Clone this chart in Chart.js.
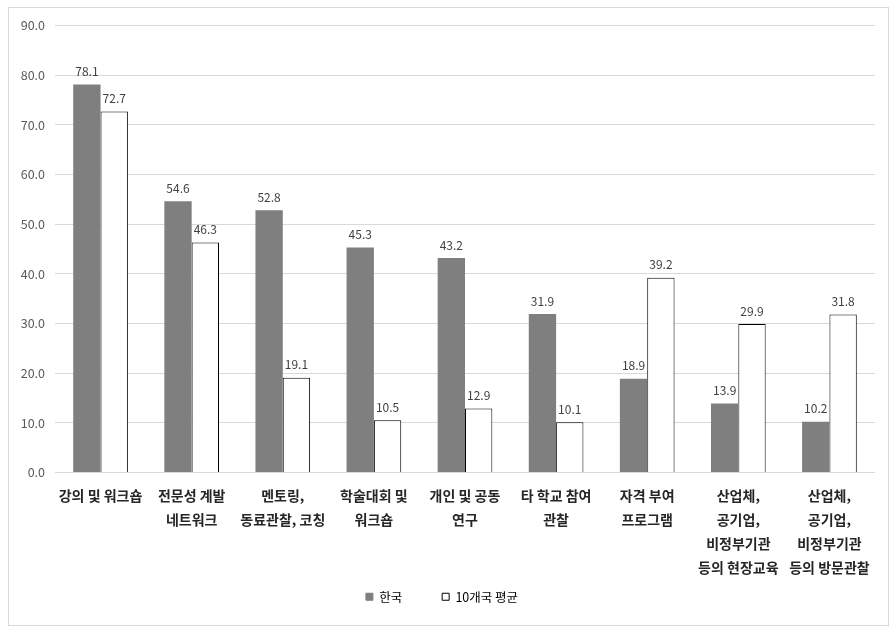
<!DOCTYPE html>
<html><head><meta charset="utf-8">
<script src="https://cdn.jsdelivr.net/npm/chart.js@4/dist/chart.umd.min.js"></script>
<style>
html,body{margin:0;padding:0;background:#fff;}
#wrap{position:absolute;left:8px;top:7px;width:881px;height:619px;box-sizing:border-box;border:1px solid #d9d9d9;}
canvas{display:block;}
</style></head>
<body>
<div id="wrap"><canvas id="c" width="879" height="617"></canvas></div>
<script>
const categories = [
  "강의 및 워크숍",
  ["전문성 계발","네트워크"],
  ["멘토링,","동료관찰, 코칭"],
  ["학술대회 및","워크숍"],
  ["개인 및 공동","연구"],
  ["타 학교 참여","관찰"],
  ["자격 부여","프로그램"],
  ["산업체,","공기업,","비정부기관","등의 현장교육"],
  ["산업체,","공기업,","비정부기관","등의 방문관찰"]
];
const korea = [78.1, 54.6, 52.8, 45.3, 43.2, 31.9, 18.9, 13.9, 10.2];
const avg10 = [72.7, 46.3, 19.1, 10.5, 12.9, 10.1, 39.2, 29.9, 31.8];
const yTicks = [0,10,20,30,40,50,60,70,80,90];

const FONT = "'Noto Sans CJK KR','Noto Sans',sans-serif";

const valueLabels = {
  id:'valueLabels',
  afterDatasetsDraw(chart){
    const ctx = chart.ctx;
    ctx.save();
    ctx.font = "12px " + FONT;
    ctx.fillStyle = '#404040';
    ctx.textAlign = 'center';
    ctx.textBaseline = 'bottom';
    chart.data.datasets.forEach((ds,i)=>{
      const meta = chart.getDatasetMeta(i);
      meta.data.forEach((el,j)=>{
        ctx.fillText(ds.data[j].toFixed(1), el.x, el.y - 7);
      });
    });
    ctx.restore();
  }
};

new Chart(document.getElementById('c'), {
  type:'bar',
  data:{
    labels: categories,
    datasets:[
      {label:'한국', data:korea, backgroundColor:'#7f7f7f', borderWidth:0,
       categoryPercentage:0.6, barPercentage:1.0},
      {label:'10개국 평균', data:avg10, backgroundColor:'#ffffff', borderColor:'#000000', borderWidth:1,
       categoryPercentage:0.6, barPercentage:1.0}
    ]
  },
  options:{
    responsive:false,
    animation:false,
    layout:{padding:{top:15,right:13,left:0,bottom:12}},
    plugins:{
      legend:{
        position:'bottom',
        labels:{
          boxWidth:7, boxHeight:7, padding:40,
          color:'#404040', font:{family:FONT, size:12.5},
          generateLabels(chart){
            return chart.data.datasets.map((ds,i)=>({
              text: ds.label,
              fillStyle: ds.backgroundColor,
              strokeStyle: i===0 ? '#7f7f7f' : '#000000',
              lineWidth: 1,
              datasetIndex: i,
              hidden:false
            }));
          }
        }
      },
      tooltip:{enabled:false}
    },
    scales:{
      x:{
        grid:{display:false, drawTicks:false},
        border:{display:false},
        afterFit(scale){ scale.height = 78; scale._computeLabelArea = () => undefined; },
        ticks:{
          autoSkip:false, maxRotation:0, minRotation:0,
          color:'#262626', padding:11,
          font:{family:FONT, size:14, weight:'bold', lineHeight:1.714}
        }
      },
      y:{
        min:0, max:90,
        afterBuildTicks(scale){ scale.ticks = yTicks.map(v=>({value:v})); },
        afterFit(scale){ scale.width = 46; },
        grid:{color:'#d9d9d9', drawTicks:false},
        border:{display:false},
        ticks:{
          color:'#595959', padding:10,
          font:{family:FONT, size:12.5},
          callback:(v)=>Number(v).toFixed(1)
        }
      }
    }
  },
  plugins:[valueLabels]
});
</script>
</body></html>
